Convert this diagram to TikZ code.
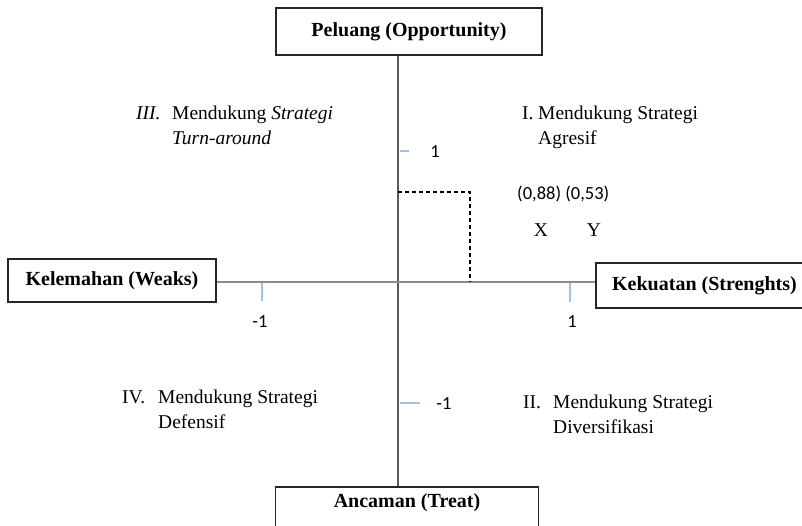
\documentclass[tikz,border=0pt]{standalone}
\usepackage{fontspec}
\setmainfont{Liberation Serif}
\newfontfamily\calibri{Carlito}
\usepackage{tikz}
\usetikzlibrary{arrows.meta, positioning, calc}
\definecolor{maxis}{HTML}{8C8C8C}
\definecolor{maxisdark}{HTML}{595959}
\definecolor{mtick}{HTML}{9DC3E6}
\definecolor{mframe}{HTML}{262626}
\tikzset{
  sbox/.style={draw=mframe, line width=1.6pt, fill=white, inner sep=0pt,
               font=\fontsize{20}{25}\selectfont\bfseries, text=black},
  qtext/.style={anchor=base west, inner sep=0pt,
                font=\fontsize{19.5}{25}\selectfont, text=black},
  numtext/.style={anchor=base, inner sep=0pt,
                  font=\calibri\fontsize{18.5}{22}\selectfont, text=black},
  axtick/.style={mtick, line width=1.3pt},
}

\begin{document}
\begin{tikzpicture}[x=1pt, y=-1pt]
  \useasboundingbox (0,0) rectangle (802,526);

  \coordinate (o) at (398,282);
  \coordinate (p) at (470,192);

  \node[sbox, minimum width=266pt, minimum height=47pt] (opp) at (409,31.5) {Peluang (Opportunity)};
  \node[sbox, minimum width=208pt, minimum height=43pt] (weak) at (112,280.5) {Kelemahan (Weaks)};
  \node[sbox, minimum width=217pt, minimum height=45pt] (str) at (704.5,285.5) {Kekuatan (Strenghts)};
  \node[sbox, minimum width=263pt, anchor=north, inner ysep=7pt, text depth=20pt] (thr) at (407,486) {Ancaman (Treat)};

  \draw[maxisdark, line width=1.2pt] (opp.south -| o) -- (thr.north -| o);
  \draw[maxis, line width=1.6pt] (weak.east |- o) -- (str.west |- o);

  \draw[axtick] ($(o)+(2,-131)$) -- ++(9,0);
  \draw[axtick] ($(o)+(2,121)$) -- ++(20,0);
  \draw[axtick] ($(o)+(-136,1)$) -- ++(0,18);
  \draw[axtick] ($(o)+(172,1)$) -- ++(0,19);

  \node[numtext] (ny1) at (435,158) {1};
  \node[numtext] (ny2) at (444,409) {-1};
  \node[numtext] (nx1) at (260,327) {-1};
  \node[numtext] (nx2) at (572,327) {1};

  \draw[dashed, line width=1.2pt, dash pattern=on 4pt off 3pt] (o |- p) -- (p) -- (p |- o);

  \node[numtext, anchor=base west] (pt) at (517,200) {(0,88) (0,53)};
  \node[qtext, anchor=base] (xl) at (541,237) {X};
  \node[qtext, anchor=base] (yl) at (594,237) {Y};

  \node[qtext] (q3) at (136,120) {\begin{tabular}[t]{@{}p{36pt}@{}l@{}}\textit{III.} & Mendukung \textit{Strategi}\\ & \textit{Turn-around}\end{tabular}};
  \node[qtext] (q1) at (522,120) {\begin{tabular}[t]{@{}p{16pt}@{}l@{}}I. & Mendukung Strategi\\ & Agresif\end{tabular}};
  \node[qtext] (q4) at (122,403) {\begin{tabular}[t]{@{}p{36pt}@{}l@{}}IV. & Mendukung Strategi\\ & Defensif\end{tabular}};
  \node[qtext] (q2) at (523,408) {\begin{tabular}[t]{@{}p{30pt}@{}l@{}}II. & Mendukung Strategi\\ & Diversifikasi\end{tabular}};

\end{tikzpicture}
\end{document}
